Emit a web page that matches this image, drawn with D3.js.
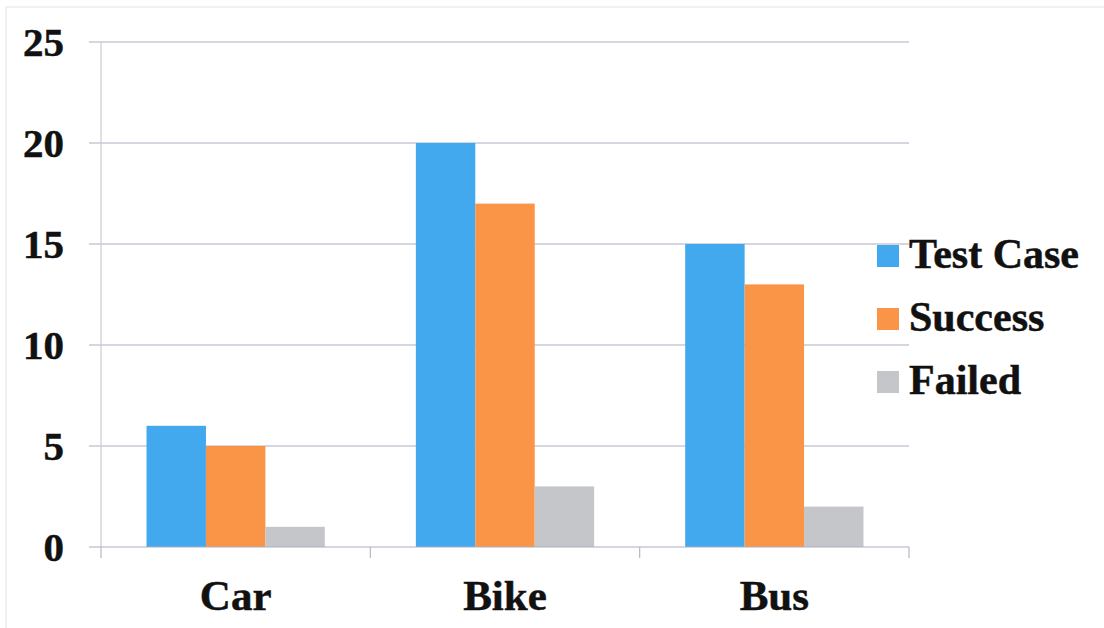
<!DOCTYPE html>
<html>
<head>
<meta charset="utf-8">
<script src="https://cdn.jsdelivr.net/npm/d3@7"></script>
<style>
  html, body { margin: 0; padding: 0; background: #fff; }
  svg { display: block; }
  text { font-family: "Liberation Serif", "Times New Roman", serif; font-weight: bold; fill: #111; stroke: #111; stroke-width: 0.5; }
</style>
</head>
<body>
<svg id="chart" width="1104" height="628"></svg>
<script>
const categories = ["Car", "Bike", "Bus"];
const seriesNames = ["Test Case", "Success", "Failed"];
const testCase = [6, 20, 15];
const success = [5, 17, 13];
const failed = [1, 3, 2];
const yTicks = [0, 5, 10, 15, 20, 25];
const colors = ["#43a9ef", "#fa9548", "#c4c6c9"];

const seriesValues = [testCase, success, failed];

const svg = d3.select("#chart");
const W = 1104, H = 628;

// faint frame
svg.append("line").attr("x1", 6).attr("x2", W).attr("y1", 7).attr("y2", 7)
  .attr("stroke", "#e2e2e6").attr("stroke-width", 1);
svg.append("line").attr("x1", 6).attr("x2", 6).attr("y1", 7).attr("y2", H)
  .attr("stroke", "#e2e2e6").attr("stroke-width", 1);

const x0 = 101, x1 = 909, yTop = 42, yBot = 547;

const x = d3.scaleBand().domain(categories).range([x0, x1]).paddingInner(0).paddingOuter(0);
const xs = d3.scaleBand().domain(seriesNames)
  .range([x.bandwidth() * 0.169, x.bandwidth() * (1 - 0.169)]).padding(0);
const y = d3.scaleLinear().domain([0, 25]).range([yBot, yTop]);

const gridColor = "#a9b0c2";

// gridlines (with outside tick extension)
svg.append("g").selectAll("line").data(yTicks.filter(d => d > 0)).join("line")
  .attr("x1", 89).attr("x2", x1)
  .attr("y1", d => y(d)).attr("y2", d => y(d))
  .attr("stroke", gridColor).attr("stroke-width", 1.2);

// y axis line
svg.append("line").attr("x1", x0).attr("x2", x0).attr("y1", yTop).attr("y2", yBot)
  .attr("stroke", "#c8ccd6").attr("stroke-width", 1.2);

// bars
const groups = svg.append("g").selectAll("g").data(categories).join("g")
  .attr("transform", d => `translate(${x(d)},0)`);
groups.selectAll("rect")
  .data((c, ci) => seriesNames.map((s, si) => ({ s, v: seriesValues[si][ci], si })))
  .join("rect")
  .attr("x", d => xs(d.s))
  .attr("width", xs.bandwidth())
  .attr("y", d => y(d.v))
  .attr("height", d => y(0) - y(d.v))
  .attr("fill", d => colors[d.si]);

// x axis baseline and ticks
svg.append("line").attr("x1", 89).attr("x2", x1).attr("y1", yBot).attr("y2", yBot)
  .attr("stroke", gridColor).attr("stroke-width", 1.2);
const xTickPos = categories.map(c => x(c)).concat([x1]);
svg.append("g").selectAll("line").data(xTickPos).join("line")
  .attr("x1", d => d).attr("x2", d => d).attr("y1", yBot).attr("y2", yBot + 11)
  .attr("stroke", "#b4b9c6").attr("stroke-width", 1.2);

// y labels
svg.append("g").selectAll("text").data(yTicks).join("text")
  .attr("x", 64).attr("y", d => y(d))
  .attr("text-anchor", "end").attr("dominant-baseline", "central")
  .attr("font-size", 41)
  .text(d => d);

// x labels
svg.append("g").selectAll("text").data(categories).join("text")
  .attr("x", d => x(d) + x.bandwidth() / 2).attr("y", 610)
  .attr("text-anchor", "middle").attr("font-size", 43)
  .text(d => d);

// legend
const legend = svg.append("g").selectAll("g").data(seriesNames).join("g")
  .attr("transform", (d, i) => `translate(877,${256 + i * 63})`);
legend.append("rect").attr("x", 0).attr("y", -11).attr("width", 22).attr("height", 22)
  .attr("fill", (d, i) => colors[i]);
legend.append("text").attr("x", 32).attr("y", 12)
  .attr("font-size", 42).text(d => d);
</script>
</body>
</html>
